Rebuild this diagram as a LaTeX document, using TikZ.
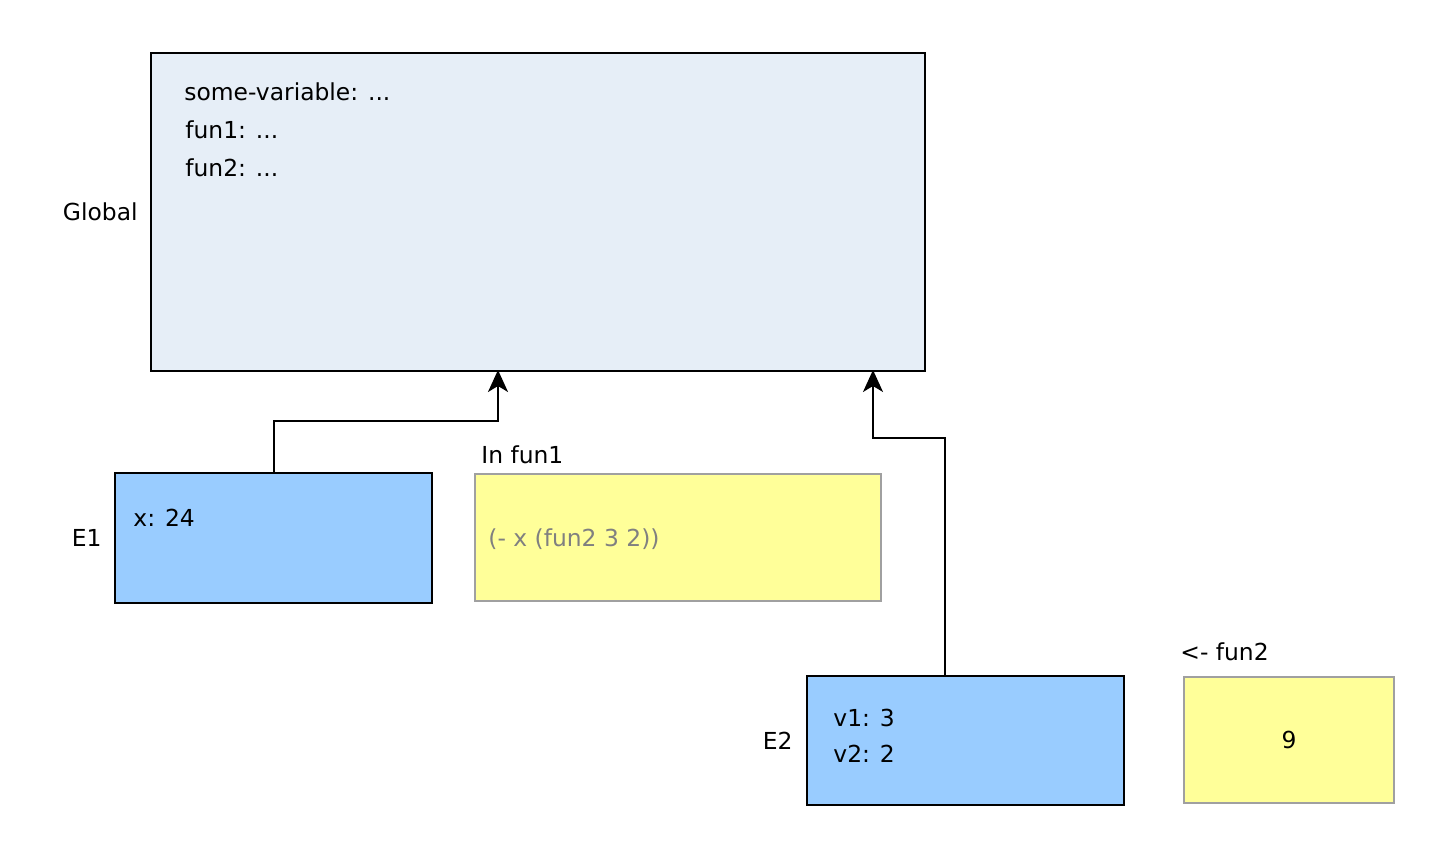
\documentclass[tikz,border=0pt]{standalone}
\usepackage{fontspec}
\setmainfont{DejaVu Sans}
\usetikzlibrary{positioning,arrows.meta}
\definecolor{globalfill}{HTML}{E6EEF7}
\definecolor{envblue}{HTML}{99CCFF}
\definecolor{evalyellow}{HTML}{FFFF99}
\definecolor{evalline}{HTML}{A0A0A0}
\definecolor{codegray}{HTML}{808080}

\begin{document}
\begin{tikzpicture}[x=0.5pt, y=-0.5pt, font=\fontsize{11.7}{14}\selectfont,
    frame/.style = {draw, line width=1pt, inner sep=0pt},
    envbox/.style = {frame, fill=envblue, minimum width=158.5pt, minimum height=65pt},
    evalbox/.style = {frame, draw=evalline, fill=evalyellow},
    txt/.style = {anchor=west, inner sep=0pt},
    link/.style = {line width=1pt, shorten >=-1pt, -{Stealth[length=11pt, width=10pt, inset=3pt]}}]
    \useasboundingbox (0,0) rectangle (1440,860);
    % frames
    \node[frame, fill=globalfill, minimum width=387pt, minimum height=159pt] (global) at (538,212) {};
    \node[envbox] (e1) at (273.5,538) {};
    \node[envbox, minimum height=64.5pt] (e2) at (965.5,740.5) {};
    \node[evalbox, minimum width=203pt, minimum height=63.5pt] (eval1) at (678,537.5) {};
    \node[evalbox, minimum width=105pt, minimum height=63pt] (eval2) at (1289,740) {9};
    % labels
    \node[txt, anchor=east, left=6pt of global] (globallabel) {Global};
    \node[txt, anchor=east, left=6pt of e1] (e1label) {E1};
    \node[txt, anchor=east, left=6.5pt of e2] (e2label) {E2};
    \node[txt] (eval1label) at (481,455) {In fun1};
    \node[txt] (eval2label) at (1180,652) {<- fun2};
    % bindings
    \node[txt] (somevar) at (184,92) {some-variable: ...};
    \node[txt] (fun1) at (185,130) {fun1: ...};
    \node[txt] (fun2) at (185,168) {fun2: ...};
    \node[txt] (x) at (133,518) {x: 24};
    \node[txt] (v1) at (833,718) {v1: 3};
    \node[txt] (v2) at (833,754) {v2: 2};
    \node[txt, text=codegray] (expr) at (488,539) {(- x (fun2 3 2))};
    % parent links
    \coordinate (g1) at (498,0 |- global.south);
    \coordinate (g2) at (873,0 |- global.south);
    \coordinate (e2up) at (945,0 |- e2.north);
    \draw[link] (e1.north) -- ++(0,-51) -| (g1);
    \draw[link] (e2up) -- ++(0,-237) -| (g2);
\end{tikzpicture}
\end{document}
